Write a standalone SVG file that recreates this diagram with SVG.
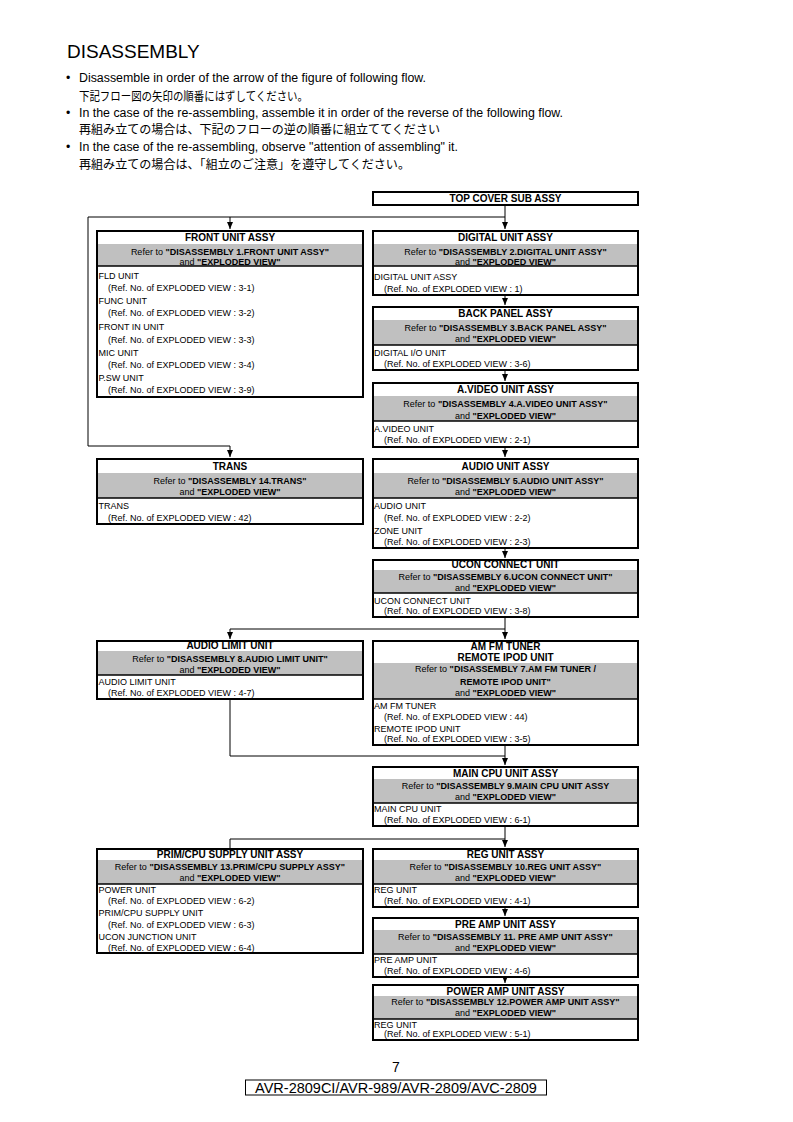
<svg xmlns="http://www.w3.org/2000/svg" width="793" height="1122" viewBox="0 0 793 1122">
<defs>
<style>
text{font-family:"Liberation Sans",Arial,sans-serif;fill:#000}
.jp{font-family:"Liberation Sans","Noto Sans CJK JP",sans-serif}
.h{font-size:12.3px}
.t{font-size:10px;font-weight:bold;text-anchor:middle}
.r{font-size:9px;text-anchor:middle}
.b{font-weight:bold}
.i{font-size:9px}
.g{fill:#c0c0c0;stroke:none}
.o{fill:none;stroke:#000;stroke-width:2}
.s{stroke:#000;stroke-width:1.5}
.c{fill:none;stroke:#000;stroke-width:1}
</style>
<marker id="ar" markerUnits="userSpaceOnUse" markerWidth="6" markerHeight="7" refX="3" refY="7" orient="0">
<path d="M0,0 L6,0 L3,7 z" fill="#000"/>
</marker>
</defs>
<rect width="793" height="1122" fill="#fff"/>

<g id="header">
<text x="67" y="58" font-size="19">DISASSEMBLY</text>
<text x="66" y="82" class="h">•</text>
<text x="79" y="82" class="h" textLength="347" lengthAdjust="spacingAndGlyphs">Disassemble in order of the arrow of the figure of following flow.</text>
<text x="79" y="101" class="jp" font-size="12.3" textLength="229" lengthAdjust="spacingAndGlyphs">下記フロー図の矢印の順番にはずしてください。</text>
<text x="66" y="117" class="h">•</text>
<text x="79" y="117" class="h" textLength="484" lengthAdjust="spacingAndGlyphs">In the case of the re-assembling, assemble it in order of the reverse of the following flow.</text>
<text x="79" y="134" class="jp" font-size="12.3" textLength="361" lengthAdjust="spacingAndGlyphs">再組み立ての場合は、下記のフローの逆の順番に組立ててください</text>
<text x="66" y="151" class="h">•</text>
<text x="79" y="151" class="h" textLength="379" lengthAdjust="spacingAndGlyphs">In the case of the re-assembling, observe "attention of assembling" it.</text>
<text x="79" y="169" class="jp" font-size="12.3" textLength="331" lengthAdjust="spacingAndGlyphs">再組み立ての場合は、「組立のご注意」を遵守してください。</text>
</g>

<g id="connectors">
<path class="c" d="M505,205 V229" marker-end="url(#ar)"/>
<path class="c" d="M88,217 H505"/>
<path class="c" d="M230,217 V229" marker-end="url(#ar)"/>
<path class="c" d="M88,217 V446 H230 V457" marker-end="url(#ar)"/>
<path class="c" d="M505,295 V305" marker-end="url(#ar)"/>
<path class="c" d="M505,370 V381" marker-end="url(#ar)"/>
<path class="c" d="M505,447 V457" marker-end="url(#ar)"/>
<path class="c" d="M505,548 V558" marker-end="url(#ar)"/>
<path class="c" d="M505,617 V639" marker-end="url(#ar)"/>
<path class="c" d="M230,629 H505"/>
<path class="c" d="M230,629 V639" marker-end="url(#ar)"/>
<path class="c" d="M230,699 V756 H505"/>
<path class="c" d="M505,745 V765" marker-end="url(#ar)"/>
<path class="c" d="M505,826 V847" marker-end="url(#ar)"/>
<path class="c" d="M230,839 H505"/>
<path class="c" d="M230,839 V848"/>
<path class="c" d="M505,907 V916" marker-end="url(#ar)"/>
<path class="c" d="M505,977 V983" marker-end="url(#ar)"/>
</g>

<g id="top-cover">
<rect class="o" x="373" y="192" width="265" height="13"/>
<text class="t" x="505.5" y="202">TOP COVER SUB ASSY</text>
</g>

<g id="front-unit">
<rect class="g" x="97" y="244" width="266" height="22"/>
<rect class="o" x="97" y="231" width="266" height="166"/>
<line class="s" x1="97" y1="266" x2="363" y2="266"/>
<text class="t" x="230" y="241">FRONT UNIT ASSY</text>
<text class="r" x="230" y="254.5">Refer to <tspan class="b">"DISASSEMBLY 1.FRONT UNIT ASSY"</tspan></text>
<text class="r" x="230" y="265">and <tspan class="b">"EXPLODED VIEW"</tspan></text>
<text class="i" x="98.5" y="279">FLD UNIT</text>
<text class="i" x="108" y="291">(Ref. No. of EXPLODED VIEW : 3-1)</text>
<text class="i" x="98.5" y="303.5">FUNC UNIT</text>
<text class="i" x="108" y="316">(Ref. No. of EXPLODED VIEW : 3-2)</text>
<text class="i" x="98.5" y="330">FRONT IN UNIT</text>
<text class="i" x="108" y="342.5">(Ref. No. of EXPLODED VIEW : 3-3)</text>
<text class="i" x="98.5" y="355.5">MIC UNIT</text>
<text class="i" x="108" y="368">(Ref. No. of EXPLODED VIEW : 3-4)</text>
<text class="i" x="98.5" y="381">P.SW UNIT</text>
<text class="i" x="108" y="393">(Ref. No. of EXPLODED VIEW : 3-9)</text>
</g>

<g id="trans">
<rect class="g" x="97" y="473" width="266" height="25"/>
<rect class="o" x="97" y="459" width="266" height="65"/>
<line class="s" x1="97" y1="498" x2="363" y2="498"/>
<text class="t" x="230" y="469.5">TRANS</text>
<text class="r" x="230" y="483.5">Refer to <tspan class="b">"DISASSEMBLY 14.TRANS"</tspan></text>
<text class="r" x="230" y="494.5">and <tspan class="b">"EXPLODED VIEW"</tspan></text>
<text class="i" x="98.5" y="508.5">TRANS</text>
<text class="i" x="108" y="520.5">(Ref. No. of EXPLODED VIEW : 42)</text>
</g>

<g id="audio-limit">
<rect class="g" x="97" y="651" width="266" height="24"/>
<rect class="o" x="97" y="641" width="266" height="58"/>
<line class="s" x1="97" y1="675" x2="363" y2="675"/>
<text class="t" x="230" y="649">AUDIO LIMIT UNIT</text>
<text class="r" x="230" y="661.5">Refer to <tspan class="b">"DISASSEMBLY 8.AUDIO LIMIT UNIT"</tspan></text>
<text class="r" x="230" y="672.5">and <tspan class="b">"EXPLODED VIEW"</tspan></text>
<text class="i" x="98.5" y="684.5">AUDIO LIMIT UNIT</text>
<text class="i" x="108" y="695.5">(Ref. No. of EXPLODED VIEW : 4-7)</text>
</g>

<g id="prim-cpu">
<rect class="g" x="97" y="860" width="266" height="24"/>
<rect class="o" x="97" y="849" width="266" height="104"/>
<line class="s" x1="97" y1="884" x2="363" y2="884"/>
<text class="t" x="230" y="857.5">PRIM/CPU SUPPLY UNIT ASSY</text>
<text class="r" x="230" y="869.5">Refer to <tspan class="b">"DISASSEMBLY 13.PRIM/CPU SUPPLY ASSY"</tspan></text>
<text class="r" x="230" y="881">and <tspan class="b">"EXPLODED VIEW"</tspan></text>
<text class="i" x="98.5" y="892.5">POWER UNIT</text>
<text class="i" x="108" y="903.5">(Ref. No. of EXPLODED VIEW : 6-2)</text>
<text class="i" x="98.5" y="915.5">PRIM/CPU SUPPLY UNIT</text>
<text class="i" x="108" y="927.5">(Ref. No. of EXPLODED VIEW : 6-3)</text>
<text class="i" x="98.5" y="939.5">UCON JUNCTION UNIT</text>
<text class="i" x="108" y="950.5">(Ref. No. of EXPLODED VIEW : 6-4)</text>
</g>

<g id="digital-unit">
<rect class="g" x="373" y="244" width="265" height="22"/>
<rect class="o" x="373" y="231" width="265" height="64"/>
<line class="s" x1="373" y1="266" x2="638" y2="266"/>
<text class="t" x="505.5" y="241">DIGITAL UNIT ASSY</text>
<text class="r" x="505.5" y="254.5">Refer to <tspan class="b">"DISASSEMBLY 2.DIGITAL UNIT ASSY"</tspan></text>
<text class="r" x="505.5" y="265">and <tspan class="b">"EXPLODED VIEW"</tspan></text>
<text class="i" x="374" y="279.5">DIGITAL UNIT ASSY</text>
<text class="i" x="384" y="291.5">(Ref. No. of EXPLODED VIEW : 1)</text>
</g>

<g id="back-panel">
<rect class="g" x="373" y="320" width="265" height="25"/>
<rect class="o" x="373" y="307" width="265" height="63"/>
<line class="s" x1="373" y1="345" x2="638" y2="345"/>
<text class="t" x="505.5" y="316.5">BACK PANEL ASSY</text>
<text class="r" x="505.5" y="330.5">Refer to <tspan class="b">"DISASSEMBLY 3.BACK PANEL ASSY"</tspan></text>
<text class="r" x="505.5" y="342">and <tspan class="b">"EXPLODED VIEW"</tspan></text>
<text class="i" x="374" y="355.5">DIGITAL I/O UNIT</text>
<text class="i" x="384" y="367">(Ref. No. of EXPLODED VIEW : 3-6)</text>
</g>

<g id="a-video">
<rect class="g" x="373" y="396" width="265" height="25"/>
<rect class="o" x="373" y="383" width="265" height="64"/>
<line class="s" x1="373" y1="421" x2="638" y2="421"/>
<text class="t" x="505.5" y="392.5">A.VIDEO UNIT ASSY</text>
<text class="r" x="505.5" y="407">Refer to <tspan class="b">"DISASSEMBLY 4.A.VIDEO UNIT ASSY"</tspan></text>
<text class="r" x="505.5" y="418.5">and <tspan class="b">"EXPLODED VIEW"</tspan></text>
<text class="i" x="374" y="431.5">A.VIDEO UNIT</text>
<text class="i" x="384" y="443">(Ref. No. of EXPLODED VIEW : 2-1)</text>
</g>

<g id="audio-unit">
<rect class="g" x="373" y="473" width="265" height="25"/>
<rect class="o" x="373" y="459" width="265" height="89"/>
<line class="s" x1="373" y1="498" x2="638" y2="498"/>
<text class="t" x="505.5" y="469.5">AUDIO UNIT ASSY</text>
<text class="r" x="505.5" y="483.5">Refer to <tspan class="b">"DISASSEMBLY 5.AUDIO UNIT ASSY"</tspan></text>
<text class="r" x="505.5" y="494.5">and <tspan class="b">"EXPLODED VIEW"</tspan></text>
<text class="i" x="374" y="508.5">AUDIO UNIT</text>
<text class="i" x="384" y="520.5">(Ref. No. of EXPLODED VIEW : 2-2)</text>
<text class="i" x="374" y="533.5">ZONE UNIT</text>
<text class="i" x="384" y="544.5">(Ref. No. of EXPLODED VIEW : 2-3)</text>
</g>

<g id="ucon-connect">
<rect class="g" x="373" y="570" width="265" height="23"/>
<rect class="o" x="373" y="560" width="265" height="57"/>
<line class="s" x1="373" y1="593" x2="638" y2="593"/>
<text class="t" x="505.5" y="568">UCON CONNECT UNIT</text>
<text class="r" x="505.5" y="579.5">Refer to <tspan class="b">"DISASSEMBLY 6.UCON CONNECT UNIT"</tspan></text>
<text class="r" x="505.5" y="590.5">and <tspan class="b">"EXPLODED VIEW"</tspan></text>
<text class="i" x="374" y="603.5">UCON CONNECT UNIT</text>
<text class="i" x="384" y="614">(Ref. No. of EXPLODED VIEW : 3-8)</text>
</g>

<g id="am-fm-tuner">
<rect class="g" x="373" y="663" width="265" height="36"/>
<rect class="o" x="373" y="641" width="265" height="104"/>
<line class="s" x1="373" y1="699" x2="638" y2="699"/>
<text class="t" x="505.5" y="649.5">AM FM TUNER</text>
<text class="t" x="505.5" y="660.5">REMOTE IPOD UNIT</text>
<text class="r" x="505.5" y="672"><tspan>Refer to </tspan><tspan class="b">"DISASSEMBLY 7.AM FM TUNER /</tspan></text>
<text class="r b" x="505.5" y="684.5">REMOTE IPOD UNIT"</text>
<text class="r" x="505.5" y="695.5">and <tspan class="b">"EXPLODED VIEW"</tspan></text>
<text class="i" x="374" y="708.5">AM FM TUNER</text>
<text class="i" x="384" y="719.5">(Ref. No. of EXPLODED VIEW : 44)</text>
<text class="i" x="374" y="731.5">REMOTE IPOD UNIT</text>
<text class="i" x="384" y="742">(Ref. No. of EXPLODED VIEW : 3-5)</text>
</g>

<g id="main-cpu">
<rect class="g" x="373" y="779" width="265" height="24"/>
<rect class="o" x="373" y="767" width="265" height="59"/>
<line class="s" x1="373" y1="803" x2="638" y2="803"/>
<text class="t" x="505.5" y="776.5">MAIN CPU UNIT ASSY</text>
<text class="r" x="505.5" y="788.5">Refer to <tspan class="b">"DISASSEMBLY 9.MAIN CPU UNIT ASSY</tspan></text>
<text class="r" x="505.5" y="799.5">and <tspan class="b">"EXPLODED VIEW"</tspan></text>
<text class="i" x="374" y="811.5">MAIN CPU UNIT</text>
<text class="i" x="384" y="823">(Ref. No. of EXPLODED VIEW : 6-1)</text>
</g>

<g id="reg-unit">
<rect class="g" x="373" y="860" width="265" height="24"/>
<rect class="o" x="373" y="849" width="265" height="58"/>
<line class="s" x1="373" y1="884" x2="638" y2="884"/>
<text class="t" x="505.5" y="857.5">REG UNIT ASSY</text>
<text class="r" x="505.5" y="869.5">Refer to <tspan class="b">"DISASSEMBLY 10.REG UNIT ASSY"</tspan></text>
<text class="r" x="505.5" y="881">and <tspan class="b">"EXPLODED VIEW"</tspan></text>
<text class="i" x="374" y="892.5">REG UNIT</text>
<text class="i" x="384" y="903.5">(Ref. No. of EXPLODED VIEW : 4-1)</text>
</g>

<g id="pre-amp">
<rect class="g" x="373" y="930" width="265" height="24"/>
<rect class="o" x="373" y="918" width="265" height="59"/>
<line class="s" x1="373" y1="954" x2="638" y2="954"/>
<text class="t" x="505.5" y="927.5">PRE AMP UNIT ASSY</text>
<text class="r" x="505.5" y="939.5">Refer to <tspan class="b">"DISASSEMBLY 11. PRE AMP UNIT ASSY"</tspan></text>
<text class="r" x="505.5" y="951">and <tspan class="b">"EXPLODED VIEW"</tspan></text>
<text class="i" x="374" y="962.5">PRE AMP UNIT</text>
<text class="i" x="384" y="973.5">(Ref. No. of EXPLODED VIEW : 4-6)</text>
</g>

<g id="power-amp">
<rect class="g" x="373" y="996" width="265" height="23"/>
<rect class="o" x="373" y="985" width="265" height="55"/>
<line class="s" x1="373" y1="1019" x2="638" y2="1019"/>
<text class="t" x="505.5" y="994.5">POWER AMP UNIT ASSY</text>
<text class="r" x="505.5" y="1004.5">Refer to <tspan class="b">"DISASSEMBLY 12.POWER AMP UNIT ASSY"</tspan></text>
<text class="r" x="505.5" y="1016">and <tspan class="b">"EXPLODED VIEW"</tspan></text>
<text class="i" x="374" y="1027.5">REG UNIT</text>
<text class="i" x="384" y="1036.5">(Ref. No. of EXPLODED VIEW : 5-1)</text>
</g>

<g id="footer">
<text x="396" y="1072" font-size="14" text-anchor="middle">7</text>
<rect x="245.5" y="1080" width="301" height="15" fill="none" stroke="#000" stroke-width="1"/>
<text x="396" y="1093" font-size="14.5" text-anchor="middle">AVR-2809CI/AVR-989/AVR-2809/AVC-2809</text>
</g>
</svg>
